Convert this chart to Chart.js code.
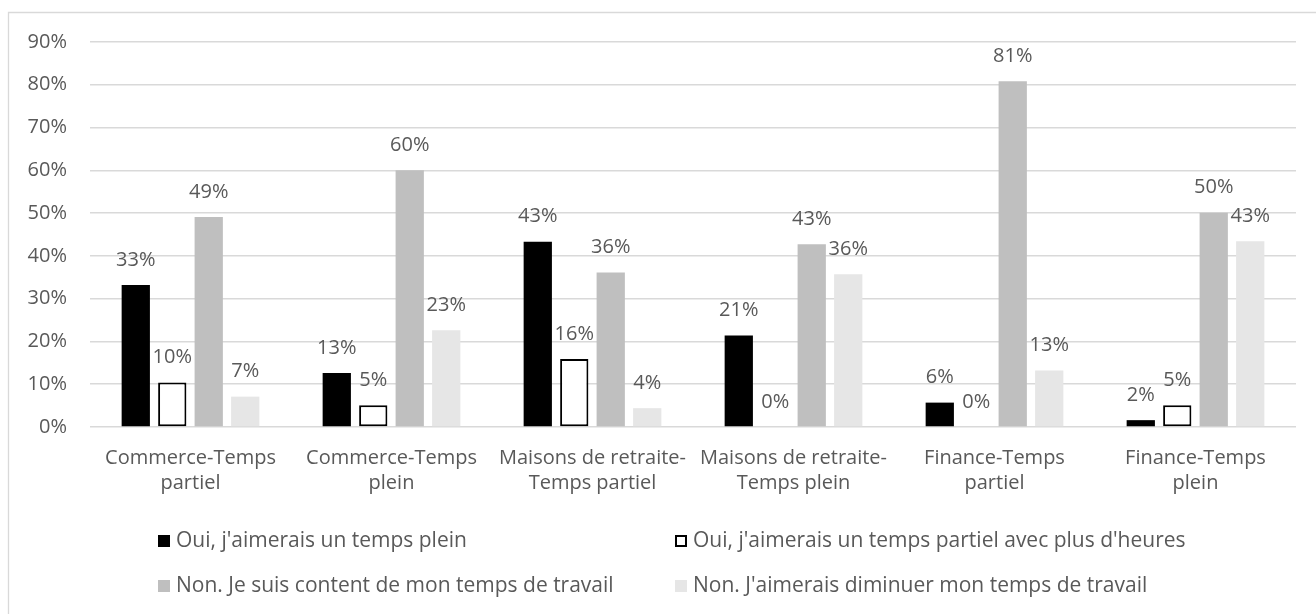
<!DOCTYPE html>
<html>
<head>
<meta charset="utf-8">
<script src="https://cdn.jsdelivr.net/npm/chart.js@4/dist/chart.umd.min.js"></script>
<style>
  html, body { margin: 0; padding: 0; background: #fff; }
  #wrap { width: 1316px; height: 614px; position: relative; }
</style>
</head>
<body>
<div id="wrap"><canvas id="c" width="1316" height="614"></canvas></div>
<script>
const categories = [
  ["Commerce-Temps", "partiel"],
  ["Commerce-Temps", "plein"],
  ["Maisons de retraite-", "Temps partiel"],
  ["Maisons de retraite-", "Temps plein"],
  ["Finance-Temps", "partiel"],
  ["Finance-Temps", "plein"]
];
const seriesNames = [
  "Oui, j'aimerais un temps plein",
  "Oui, j'aimerais un temps partiel avec plus d'heures",
  "Non. Je suis content de mon temps de travail",
  "Non. J'aimerais diminuer mon temps de travail"
];
const ouiTempsPlein      = [33.2, 12.6, 43.3, 21.4, 5.7, 1.6];
const ouiPlusHeures      = [10.4, 5.1, 15.9, 0, 0, 5.1];
const nonContent         = [49.1, 60.0, 36.1, 42.7, 80.8, 50.1];
const nonDiminuer        = [7.1, 22.6, 4.4, 35.7, 13.2, 43.4];
const yTicks = [0, 10, 20, 30, 40, 50, 60, 70, 80, 90];

const TEXT = '#595959';
const FONT = '"Open Sans"';
const FS = 20;
const LEGEND_FS = 21;

const fills = ['#000000', '#ffffff', '#bfbfbf', '#e6e6e6'];
const strokes = ['#000000', '#000000', '#bfbfbf', '#e6e6e6'];

const valuesList = [ouiTempsPlein, ouiPlusHeures, nonContent, nonDiminuer];

const datasets = valuesList.map((vals, i) => ({
  label: seriesNames[i],
  data: vals,
  backgroundColor: fills[i],
  borderColor: strokes[i],
  borderWidth: i === 1 ? (ctx => (ctx.raw === 0 ? 0 : 2)) : 0,
  borderSkipped: false,
  barPercentage: 0.775,
  categoryPercentage: 0.726
}));

const frame = {
  id: 'frame',
  beforeDraw(chart) {
    const c = chart.ctx;
    c.save();
    c.fillStyle = '#fff';
    c.fillRect(0, 0, chart.width, chart.height);
    c.strokeStyle = '#d9d9d9';
    c.lineWidth = 1.3;
    c.beginPath();
    c.moveTo(8.5, chart.height);
    c.lineTo(8.5, 12.5);
    c.lineTo(chart.width, 12.5);
    c.stroke();
    c.restore();
  }
};

const valueLabels = {
  id: 'valueLabels',
  afterDatasetsDraw(chart) {
    const c = chart.ctx;
    c.save();
    c.font = FS + 'px ' + FONT;
    c.fillStyle = TEXT;
    c.textAlign = 'center';
    c.textBaseline = 'middle';
    chart.data.datasets.forEach((ds, di) => {
      const meta = chart.getDatasetMeta(di);
      meta.data.forEach((el, i) => {
        const v = ds.data[i];
        c.fillText(Math.round(v) + '%', el.x, el.y - 25);
      });
    });
    c.restore();
  }
};

const legendBox = {
  id: 'legendBox',
  afterDraw(chart) {
    const c = chart.ctx;
    const cols = [158, 675];
    const rows = [541, 586];
    c.save();
    c.font = LEGEND_FS + 'px ' + FONT;
    c.textBaseline = 'middle';
    c.textAlign = 'left';
    chart.data.datasets.forEach((ds, i) => {
      const x = cols[i % 2];
      const y = rows[Math.floor(i / 2)];
      const s = 12;
      c.fillStyle = ds.backgroundColor;
      c.fillRect(x, y - s / 2, s, s);
      if (i === 1) {
        c.strokeStyle = '#000';
        c.lineWidth = 2;
        c.strokeRect(x + 1, y - s / 2 + 1, s - 2, s - 2);
      }
      c.fillStyle = TEXT;
      c.fillText(ds.label, x + s + 6, y);
    });
    c.restore();
  }
};

new Chart(document.getElementById('c'), {
  type: 'bar',
  data: { labels: categories, datasets },
  options: {
    responsive: false,
    animation: false,
    layout: { padding: { top: 42, right: 20, left: 0, bottom: 0 } },
    plugins: {
      legend: { display: false },
      tooltip: { enabled: false }
    },
    scales: {
      x: {
        grid: { display: false, drawTicks: false },
        border: { display: false },
        ticks: {
          color: TEXT,
          font: { family: FONT, size: FS, lineHeight: 1.25 },
          padding: 19,
          maxRotation: 0,
          minRotation: 0,
          autoSkip: false
        },
        afterFit(scale) { scale.height = 187; }
      },
      y: {
        min: 0,
        max: 90,
        afterBuildTicks(scale) { scale.ticks = yTicks.map(v => ({ value: v })); },
        grid: { color: '#d9d9d9', lineWidth: 1.5, drawTicks: false },
        border: { display: false },
        ticks: {
          color: TEXT,
          font: { family: FONT, size: FS },
          padding: 23,
          callback: v => v + '%'
        },
        afterFit(scale) { scale.width = 90; }
      }
    }
  },
  plugins: [frame, valueLabels, legendBox]
});
</script>
</body>
</html>
